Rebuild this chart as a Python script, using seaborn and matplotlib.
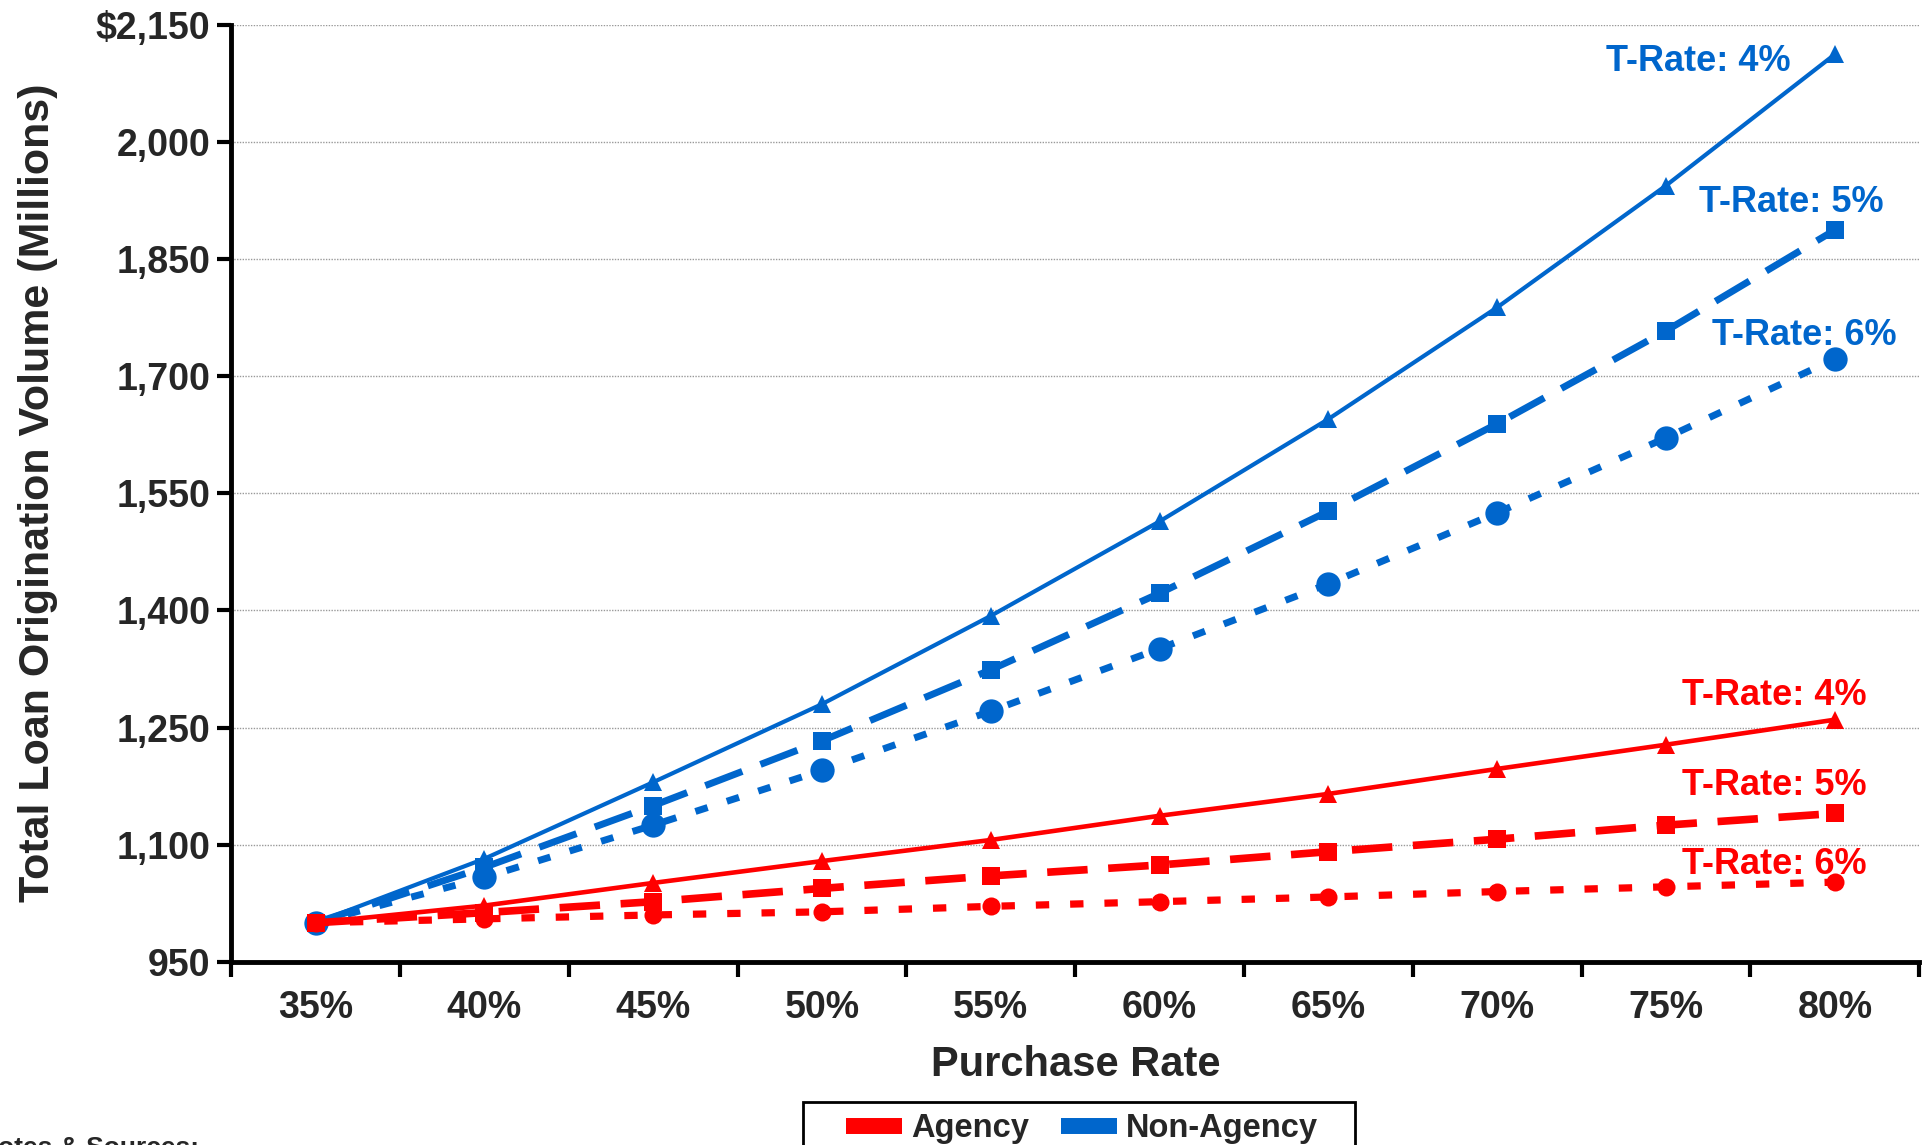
import matplotlib
matplotlib.use("Agg")
import matplotlib.pyplot as plt
from matplotlib import font_manager
from matplotlib.lines import Line2D
from matplotlib.patches import Rectangle
from matplotlib.ticker import FixedLocator, FuncFormatter
import numpy as np
import pandas as pd
import seaborn as sns

# ---- data -------------------------------------------------------------
purchase_rates = ["35%", "40%", "45%", "50%", "55%", "60%", "65%", "70%", "75%", "80%"]

non_agency_t4 = [1000, 1082, 1180, 1280, 1393, 1514, 1645, 1788, 1944, 2112]
non_agency_t5 = [1000, 1071, 1150, 1233, 1324, 1422, 1527, 1639, 1758, 1887]
non_agency_t6 = [1000, 1058, 1125, 1195, 1271, 1351, 1434, 1525, 1621, 1722]

agency_t4 = [1000, 1022, 1051, 1079, 1106, 1137, 1165, 1197, 1228, 1260]
agency_t5 = [1000, 1013, 1027, 1044, 1060, 1074, 1091, 1107, 1125, 1140]
agency_t6 = [1000, 1005, 1010, 1014, 1021, 1027, 1033, 1040, 1046, 1052]

y_ticks = [950, 1100, 1250, 1400, 1550, 1700, 1850, 2000, 2150]
legend_labels = ["Agency", "Non-Agency"]
rate_labels = ["T-Rate: 4%", "T-Rate: 5%", "T-Rate: 6%"]

RED = "#FF0000"
BLUE = "#0066CC"

# ---- fonts ------------------------------------------------------------
sns.set_style("white")


def as_weight(w):
    if isinstance(w, (int, float)):
        return w
    return font_manager.weight_dict.get(str(w), 400)


bold_names = {f.name for f in font_manager.fontManager.ttflist
              if as_weight(f.weight) >= 700 and f.style == "normal"}
sans = next((n for n in ["Liberation Sans", "Arimo"] if n in bold_names), "DejaVu Sans")
plt.rcParams["font.family"] = [sans, "DejaVu Sans"]
plt.rcParams["font.weight"] = "bold"

fig = plt.figure(figsize=(19.27, 11.45), dpi=100)
ax = fig.add_axes([0.120, 0.160, 0.876, 0.8185])

x = np.arange(len(purchase_rates))

series = [
    # values, color, linewidth, dashes, marker, markersize
    (non_agency_t4, BLUE, 3.0, None, "^", 12.5),
    (non_agency_t5, BLUE, 5.0, (5.7, 2.8), "s", 12.5),
    (non_agency_t6, BLUE, 5.0, (1.85, 2.9), "o", 17.5),
    (agency_t4, RED, 3.3, None, "^", 13),
    (agency_t5, RED, 5.5, (5.3, 2.7), "s", 13),
    (agency_t6, RED, 5.2, (1.85, 2.9), "o", 13),
]

for vals, color, lw, dashes, marker, ms in series:
    df = pd.DataFrame({"x": x, "y": vals})
    sns.lineplot(data=df, x="x", y="y", color=color, linewidth=lw, marker=marker,
                 markersize=ms, markeredgewidth=0, markerfacecolor=color,
                 ax=ax, legend=False)
    ln = ax.lines[-1]
    if dashes is not None:
        ln.set_dashes(dashes)
    ln.set_dash_capstyle("butt")

# ---- series labels ----------------------------------------------------
label_kw = dict(fontsize=26, fontweight="bold", ha="center", va="baseline")
ax.text(8.19, 2091, rate_labels[0], color=BLUE, **label_kw)
ax.text(8.74, 1910, rate_labels[1], color=BLUE, **label_kw)
ax.text(8.82, 1740, rate_labels[2], color=BLUE, **label_kw)
ax.text(8.64, 1279, rate_labels[0], color=RED, **label_kw)
ax.text(8.64, 1164, rate_labels[1], color=RED, **label_kw)
ax.text(8.64, 1063, rate_labels[2], color=RED, **label_kw)

# ---- axes -------------------------------------------------------------
ax.set_xlim(-0.5, len(purchase_rates) - 0.5)
ax.set_ylim(950, 2150)

ax.set_xticks(x)
ax.set_xticklabels(purchase_rates)
ax.xaxis.set_minor_locator(FixedLocator(np.arange(-0.5, len(purchase_rates), 1.0)))
ax.tick_params(axis="x", which="major", length=0, pad=20, labelsize=27)
ax.tick_params(axis="x", which="minor", length=11, width=3, direction="out",
               color="black", bottom=True)

ax.set_yticks(y_ticks)
ax.yaxis.set_major_formatter(FuncFormatter(
    lambda v, p: (f"${v:,.0f}" if v == y_ticks[-1] else f"{v:,.0f}")))
ax.tick_params(axis="y", which="major", length=10, width=3, direction="out",
               color="black", pad=5, left=True, labelsize=27)
for t in ax.get_xticklabels() + ax.get_yticklabels():
    t.set_fontweight("bold")

ax.grid(axis="y", color="#999999", linestyle=(0, (1, 1)), linewidth=1.0)
ax.grid(axis="x", visible=False)
ax.set_axisbelow(True)

for side in ["top", "right"]:
    ax.spines[side].set_visible(False)
for side in ["left", "bottom"]:
    ax.spines[side].set_visible(True)
    ax.spines[side].set_color("black")
    ax.spines[side].set_linewidth(3.5)

ax.set_xlabel("Purchase Rate", fontsize=30, fontweight="bold", labelpad=14)
ax.set_ylabel("Total Loan Origination Volume (Millions)", fontsize=31,
              fontweight="bold")
ax.yaxis.set_label_coords(-0.1027, 0.5)

# ---- legend -----------------------------------------------------------
handles = [Line2D([0], [0], color=RED, linewidth=11.5, solid_capstyle="butt"),
           Line2D([0], [0], color=BLUE, linewidth=11.5, solid_capstyle="butt")]
leg = fig.legend(handles, legend_labels, loc="upper center",
                 bbox_to_anchor=(0.5615, 0.0365), borderaxespad=0, ncol=2,
                 frameon=False, handlelength=1.7, columnspacing=1.0,
                 handletextpad=0.28, borderpad=0.3,
                 prop={"weight": "bold", "size": 23.5})

fig.canvas.draw()
bb = leg.get_window_extent(fig.canvas.get_renderer())
inv = fig.transFigure.inverted()
(fx0, fy0), (fx1, fy1) = inv.transform([(bb.x0 - 33, bb.y0 - 30), (bb.x1 + 27, bb.y1 + 1)])
fig.add_artist(Rectangle((fx0, fy0), fx1 - fx0, fy1 - fy0, transform=fig.transFigure,
                         facecolor="none", edgecolor="black", linewidth=2))

fig.text(-0.011, 0.008, "Notes & Sources:", fontsize=19, fontweight="bold",
         ha="left", va="top")

fig.savefig("out.png", dpi=100)
